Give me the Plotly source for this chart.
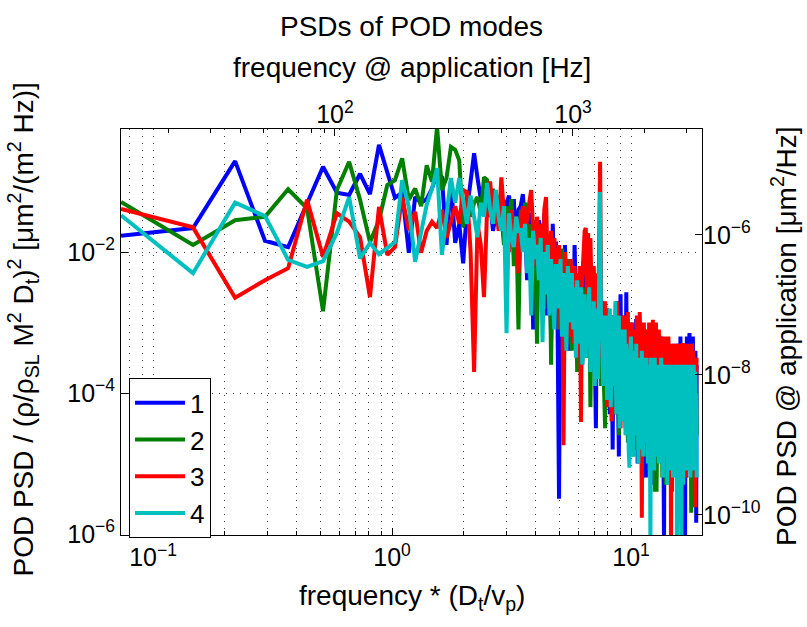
import plotly.graph_objects as go

# ---------------- data (log10 of PSD, left-axis units) ----------------
df = 0.0735  # non-dimensional frequency bin width
mode1_log = [
    -1.77, -1.66, -0.71, -1.84, -1.93, -1.30, -0.79, -1.16, -1.19, -0.89, -1.18, -0.48, -0.85, -1.23, -1.16, -2.01,
    -1.22, -1.30, -1.25, -1.10, -0.88, -0.94, -1.90, -0.98, -1.87, -1.60,
    -2.16, -1.40, -1.00, -0.60, -0.95, -1.25, -1.15, -1.50, -1.30, -1.70,
    -1.45, -1.60, -1.35, -1.80, -1.30, -1.20, -1.55, -1.25, -2.10, -1.40,
    -1.35, -1.18, -1.60, -2.40, -1.50, -1.45, -3.10, -1.65, -1.90, -1.55,
    -1.70, -2.60, -1.45, -2.90, -1.80, -2.20, -3.20, -1.60, -2.50, -1.85,
    -2.90, -5.50, -2.00, -2.40, -3.10, -1.90, -2.70, -2.20, -3.40, -2.15,
    -2.60, -3.20, -1.90, -2.80, -3.50, -2.30, -2.90, -2.55, -3.60, -2.40,
    -3.00, -2.30, -3.40, -2.60, -2.80, -3.70, -2.45, -3.10, -2.70, -3.50,
    -4.50, -2.60, -3.20, -2.80, -2.10, -3.50, -2.70, -3.90, -2.90, -3.30,
    -4.10, -2.80, -3.60, -3.00, -4.30, -2.90, -3.50, -4.80, -2.95, -3.80,
    -3.10, -4.20, -2.70, -3.60, -4.90, -3.20, -2.60, -4.00, -3.30, -3.90,
    -2.90, -3.70, -4.40, -2.57, -3.80, -3.20, -4.60, -3.10, -3.50, -4.20,
    -3.00, -3.90, -4.70, -3.20, -3.60, -4.30, -2.95, -3.70, -5.00, -3.30,
    -3.60, -4.40, -3.10, -3.90, -4.80, -3.20, -3.70, -4.50, -3.30, -4.00,
    -5.20, -3.30, -3.80, -4.60, -3.10, -4.10, -3.50, -4.90, -3.30, -3.80,
    -4.40, -3.20, -3.90, -5.30, -3.40, -4.20, -3.60, -3.20, -4.70, -3.50,
    -4.10, -3.30, -4.80, -3.60, -4.00, -3.20, -5.00, -3.70, -3.40, -4.50,
    -6.20, -3.60, -3.30, -4.20, -3.50, -4.90, -3.40, -3.80, -4.40, -3.30,
    -3.70, -4.60, -3.40, -4.00, -5.20, -3.50, -3.90, -4.30, -3.30, -4.80,
    -3.60, -4.10, -3.40, -5.00, -3.60, -4.20, -3.30, -4.70, -3.50, -4.00,
    -5.40, -3.40, -3.20, -4.30, -3.70, -4.90, -3.50, -4.10, -3.30, -4.60,
    -3.60, -4.20, -6.30, -3.40, -3.80, -4.80, -3.20, -4.30, -5.10, -3.50,
    -4.00, -3.30, -3.15, -4.60, -3.70, -5.20, -3.25, -3.20, -4.40, -3.60,
    -3.20, -4.70, -5.30, -3.50, -3.90, -4.80, -3.40, -4.20, -5.84, -3.60,
]
mode2_log = [
    -1.29, -1.90, -1.55, -1.50, -1.11, -1.38, -2.84, -1.12, -0.72, -1.26, -1.86, -1.55, -1.05, -0.98, -0.67, -1.26,
    -1.10, -1.35, -0.77, -1.00, -0.22, -1.12, -0.95, -0.51, -0.55, -0.70,
    -1.65, -1.20, -1.50, -1.30, -1.22, -1.45, -0.94, -0.98, -1.30, -1.10,
    -1.60, -1.20, -1.45, -1.90, -1.35, -1.60, -1.25, -2.20, -1.50, -3.10,
    -1.40, -1.70, -1.30, -1.90, -1.60, -2.30, -1.55, -1.80, -3.30, -1.70,
    -1.90, -1.60, -2.80, -1.85, -2.30, -1.75, -3.60, -2.00, -2.60, -2.20,
    -2.00, -3.10, -2.30, -1.95, -2.80, -2.25, -3.30, -2.10, -2.70, -2.35,
    -3.40, -2.30, -2.80, -2.45, -3.70, -2.50, -2.90, -2.40, -3.60, -2.60,
    -3.00, -2.50, -3.50, -2.70, -2.55, -4.20, -2.80, -3.20, -3.60, -2.75,
    -3.20, -3.80, -2.70, -3.40, -2.80, -3.90, -2.90, -3.50, -3.80, -4.50,
    -3.00, -3.90, -3.10, -4.20, -3.20, -3.60, -4.40, -3.10, -3.80, -4.00,
    -3.30, -4.30, -3.10, -3.70, -4.60, -3.20, -4.10, -3.40, -3.90, -4.40,
    -3.50, -3.30, -4.50, -3.40, -3.90, -4.70, -3.50, -4.00, -3.40, -4.60,
    -3.60, -4.20, -4.90, -3.70, -3.60, -4.40, -3.50, -4.80, -3.70, -4.10,
    -3.80, -4.60, -3.60, -4.20, -5.00, -3.50, -4.30, -3.80, -4.90, -3.60,
    -4.10, -4.60, -3.60, -4.40, -3.80, -5.10, -3.70, -4.20, -4.70, -3.80,
    -3.70, -4.60, -3.60, -4.30, -5.40, -3.80, -4.10, -5.40, -4.00, -3.80,
    -4.50, -3.70, -4.90, -3.80, -4.20, -4.60, -3.90, -5.20, -3.70, -4.30,
    -4.70, -3.90, -4.20, -5.30, -3.80, -4.40, -4.90, -3.70, -4.60, -3.80,
    -5.00, -3.90, -4.30, -4.70, -3.70, -5.40, -3.90, -4.40, -4.80, -3.70,
    -4.50, -3.90, -5.10, -3.80, -4.20, -4.70, -3.90, -4.60, -3.80, -5.20,
    -3.90, -4.40, -4.90, -3.80, -4.50, -3.90, -5.00, -3.70, -4.60, -4.20,
    -3.90, -4.80, -3.70, -4.40, -5.20, -4.10, -3.90, -4.90, -3.80, -4.50,
    -3.90, -4.80, -3.70, -4.60, -3.80, -4.30, -5.70, -3.90, -4.50, -3.80,
    -4.70, -3.90, -4.40, -5.00, -4.20, -3.90, -4.80, -4.30, -3.90, -4.60,
]
mode3_log = [
    -1.39, -1.65, -2.65, -2.40, -2.23, -1.26, -2.07, -1.45, -1.57, -1.79, -2.64, -1.36, -2.04, -1.93, -1.22, -1.69,
    -1.43, -2.01, -1.70, -1.57, -1.66, -1.40, -1.80, -1.55, -1.35, -1.60,
    -1.12, -1.15, -2.00, -3.70, -1.60, -1.90, -2.64, -1.40, -1.00, -1.50,
    -1.30, -1.70, -0.94, -1.45, -1.60, -2.00, -1.40, -1.75, -1.50, -2.30,
    -1.60, -1.35, -1.90, -1.50, -1.25, -1.12, -1.70, -2.20, -1.50, -1.80,
    -1.60, -2.70, -1.40, -1.22, -2.30, -2.10, -1.70, -2.90, -1.80, -2.40,
    -2.40, -1.90, -3.10, -2.10, -4.74, -2.00, -2.60, -2.30, -3.20, -2.10,
    -2.40, -3.30, -2.20, -2.70, -2.30, -3.50, -2.20, -4.41, -2.40, -2.10,
    -1.70, -1.66, -2.60, -1.73, -3.00, -1.80, -2.70, -3.30, -2.20, -2.90,
    -3.40, -2.30, -3.60, -2.00, -0.72, -2.60, -3.50, -2.80, -3.90, -2.70,
    -3.60, -2.80, -4.20, -3.00, -3.70, -2.90, -4.40, -3.10, -3.60, -2.90,
    -3.80, -4.30, -2.70, -3.50, -4.10, -3.00, -4.50, -3.20, -2.90, -4.00,
    -3.30, -2.90, -4.40, -3.20, -3.80, -2.85, -4.60, -3.30, -3.00, -4.20,
    -3.00, -3.90, -4.70, -3.20, -3.10, -4.30, -3.50, -2.90, -4.10, -3.20,
    -4.50, -2.85, -3.40, -4.00, -5.77, -3.10, -3.70, -3.00, -4.40, -3.30,
    -3.10, -4.60, -3.70, -3.20, -4.20, -3.00, -4.80, -3.30, -3.10, -4.30,
    -3.80, -2.96, -4.50, -3.60, -3.20, -4.70, -3.00, -4.10, -3.30, -3.90,
    -4.80, -3.10, -3.60, -4.40, -3.20, -3.50, -5.00, -3.20, -3.20, -4.20,
    -3.30, -4.60, -3.40, -3.20, -4.90, -3.30, -3.90, -4.40, -3.20, -3.60,
    -4.70, -3.30, -3.70, -6.20, -3.40, -4.30, -3.30, -4.80, -3.50, -3.40,
    -4.50, -3.60, -3.40, -5.10, -3.30, -3.90, -4.60, -3.40, -3.30, -4.40,
    -3.50, -4.90, -3.40, -3.30, -4.30, -3.50, -3.70, -3.29, -4.80, -3.40,
    -3.60, -4.50, -3.80, -3.30, -5.20, -3.70, -3.30, -4.40, -3.50, -4.00,
    -3.40, -4.80, -3.30, -3.70, -4.50, -3.40, -3.80, -5.00, -3.30, -3.50,
    -4.60, -3.40, -3.60, -4.30, -5.00, -5.62, -3.50, -4.20, -3.80, -3.50,
]
mode4_log = [
    -1.48, -2.30, -1.30, -1.49, -2.11, -2.21, -2.13, -1.73, -1.22, -2.09, -1.87, -2.03, -1.94, -1.86, -0.98, -1.36,
    -2.14, -1.70, -1.33, -1.10, -0.81, -2.04, -1.50, -0.95, -1.30, -0.95,
    -1.26, -1.60, -1.20, -1.50, -1.79, -1.30, -1.50, -1.02, -1.40, -1.60,
    -1.12, -1.50, -1.70, -1.35, -3.15, -1.45, -1.80, -1.93, -1.50, -1.70,
    -1.69, -2.00, -1.60, -2.30, -1.80, -2.90, -1.70, -2.10, -1.90, -2.40,
    -1.80, -3.28, -2.00, -2.60, -1.90, -2.90, -2.10, -2.50, -3.10, -2.20,
    -2.20, -2.80, -2.10, -3.20, -2.30, -2.70, -3.40, -2.20, -2.60, -3.00,
    -2.30, -3.10, -2.50, -3.50, -2.40, -2.90, -3.30, -2.50, -3.60, -2.80,
    -2.60, -3.50, -2.70, -3.10, -2.50, -3.70, -2.80, -3.40, -2.70, -3.90,
    -3.10, -2.80, -3.80, -2.70, -1.15, -3.20, -2.90, -3.90, -3.00, -3.60,
    -2.90, -4.10, -3.10, -3.70, -2.80, -4.20, -3.30, -2.90, -3.90, -3.40,
    -2.70, -4.30, -3.20, -3.80, -2.90, -4.50, -3.30, -3.90, -3.10, -4.40,
    -3.40, -3.10, -4.60, -3.30, -3.90, -3.40, -4.80, -5.06, -3.50, -3.20,
    -4.40, -3.40, -4.90, -3.50, -3.70, -4.60, -3.30, -4.20, -3.60, -5.00,
    -3.50, -4.30, -3.70, -4.80, -3.40, -4.10, -4.90, -3.50, -4.40, -3.70,
    -4.70, -3.50, -4.20, -5.00, -3.60, -4.50, -3.80, -6.20, -3.50, -4.30,
    -4.80, -3.60, -4.10, -5.10, -3.50, -4.60, -3.80, -4.90, -3.60, -4.40,
    -3.70, -5.00, -3.60, -4.30, -4.80, -3.50, -4.60, -3.80, -5.20, -3.60,
    -4.40, -4.90, -3.60, -4.70, -3.80, -4.20, -5.30, -3.60, -4.50, -3.90,
    -4.90, -3.60, -4.40, -5.10, -3.70, -4.60, -3.80, -5.20, -4.10, -3.60,
    -4.80, -3.70, -4.40, -5.00, -3.60, -6.20, -4.20, -3.70, -5.10, -3.80,
    -4.60, -3.90, -3.60, -4.90, -6.20, -3.70, -4.50, -4.00, -5.30, -3.60,
    -4.40, -4.90, -3.60, -4.60, -3.90, -5.10, -3.70, -4.50, -4.20, -3.70,
    -5.00, -3.60, -4.40, -3.90, -5.20, -3.60, -4.60, -4.20, -3.70, -5.00,
    -3.90, -4.70, -3.60, -5.10, -4.20, -3.70, -4.90, -4.00, -4.30, -5.20,
]
mode_names = ["1", "2", "3", "4"]
mode_colors = ["#0000FF", "#008000", "#FF0000", "#00BFBF"]

bottom_ticks = [0.1, 1, 10]
bottom_ticktext = ["10<sup>−1</sup>", "10<sup>0</sup>", "10<sup>1</sup>"]
top_ticks = [100, 1000]
top_ticktext = ["10<sup>2</sup>", "10<sup>3</sup>"]
left_ticks = [1e-6, 1e-4, 1e-2]
left_ticktext = ["10<sup>−6</sup>", "10<sup>−4</sup>", "10<sup>−2</sup>"]
right_ticks = [1e-10, 1e-8, 1e-6]
right_ticktext = ["10<sup>−10</sup>", "10<sup>−8</sup>", "10<sup>−6</sup>"]

# --------------------------------------------------------------------
FONT = "Liberation Sans, Arial, Helvetica, sans-serif"
FS = 28      # titles / labels
FT = 25      # tick labels
FL = 26      # legend

fig = go.Figure()
for name, color, logs in zip(mode_names, mode_colors,
                             [mode1_log, mode2_log, mode3_log, mode4_log]):
    freq = [df * (k + 1) for k in range(len(logs))]
    fig.add_trace(go.Scatter(
        x=freq, y=[10 ** v for v in logs], mode="lines", name=name,
        line=dict(color=color, width=4), xaxis="x", yaxis="y"))

# dummy trace to realize the secondary (top/right) axes
fig.add_trace(go.Scatter(x=[None], y=[None], xaxis="x2", yaxis="y2",
                         showlegend=False, hoverinfo="skip"))

minor_bottom = [0.08, 0.09] + [m * 0.1 for m in range(2, 10)] + list(range(2, 10))
minor_top = [m * 10 for m in range(2, 10)] + [m * 100 for m in range(2, 10)] + [2000, 3000]

fig.update_layout(
    width=807, height=627,
    margin=dict(l=121, r=105, t=129, b=92),
    paper_bgcolor="white", plot_bgcolor="white",
    font=dict(family=FONT, size=FT, color="black"),
    showlegend=True,
    legend=dict(x=0.0138, y=0.386, xanchor="left", yanchor="top",
                bgcolor="white", bordercolor="black", borderwidth=1,
                font=dict(size=FL), tracegroupgap=0, itemwidth=50),
    xaxis=dict(type="log", range=[-1.134, 1.297],
               tickvals=bottom_ticks, ticktext=bottom_ticktext,
               ticks="inside", ticklen=7, tickcolor="black",
               tickfont=dict(size=FT),
               showline=True, linecolor="black", linewidth=1, mirror=True,
               showgrid=True, gridcolor="#444", gridwidth=1, griddash="1px,6px",
               minor=dict(tickvals=minor_bottom, ticks="inside", ticklen=4,
                          tickcolor="black", showgrid=True, gridcolor="#444",
                          gridwidth=1, griddash="1px,6px"),
               zeroline=False),
    yaxis=dict(type="log", range=[-6.014, -0.255],
               tickvals=left_ticks, ticktext=left_ticktext,
               ticks="inside", ticklen=7, tickcolor="black",
               tickfont=dict(size=FT),
               showline=True, linecolor="black", linewidth=1, mirror=True,
               showgrid=True, gridcolor="#444", gridwidth=1, griddash="1px,6px",
               zeroline=False),
    xaxis2=dict(type="log", range=[1.101, 3.542], overlaying="x", side="top",
                anchor="y", tickvals=top_ticks, ticktext=top_ticktext,
                ticks="inside", ticklen=7, tickcolor="black",
                tickfont=dict(size=FT),
                minor=dict(tickvals=minor_top, ticks="inside", ticklen=4,
                           tickcolor="black", showgrid=False),
                showgrid=False, zeroline=False, showline=False),
    yaxis2=dict(type="log", range=[-10.286, -4.486], overlaying="y", side="right",
                anchor="x", tickvals=right_ticks, ticktext=right_ticktext,
                ticks="inside", ticklen=7, tickcolor="black",
                tickfont=dict(size=FT),
                showgrid=False, zeroline=False, showline=False),
)

ann = dict(xref="paper", yref="paper", showarrow=False,
           font=dict(family=FONT, size=FS, color="black"))
fig.add_annotation(text="PSDs of POD modes", x=0.5, y=1.253,
                   xanchor="center", yanchor="middle", **ann)
fig.add_annotation(text="frequency @ application [Hz]", x=0.5, y=1.152,
                   xanchor="center", yanchor="middle", **ann)
fig.add_annotation(text="frequency * (D<sub>t</sub>/v<sub>p</sub>)", x=0.5, y=-0.155,
                   xanchor="center", yanchor="middle", **ann)
fig.add_annotation(
    text="POD PSD / (ρ/ρ<sub>SL</sub> M<sup>2</sup> D<sub>t</sub>)<sup>2</sup> [μm<sup>2</sup>/(m<sup>2</sup> Hz)]",
    x=-0.168, y=0.507, textangle=-90, xanchor="center", yanchor="middle", **ann)
fig.add_annotation(text="POD PSD @ application [μm<sup>2</sup>/Hz]",
                   x=1.141, y=0.49, textangle=-90,
                   xanchor="center", yanchor="middle", **ann)

fig.write_html("out.html")
